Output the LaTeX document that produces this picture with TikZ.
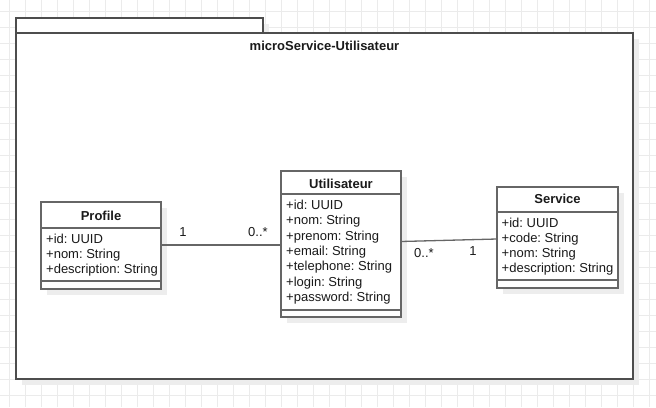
\documentclass[tikz,border=0pt]{standalone}
\usepackage{fontspec}
\setmainfont{Liberation Sans}
\usetikzlibrary{shadows}
\frenchspacing
\definecolor{gridc}{HTML}{EBEBEB}
\definecolor{shad}{HTML}{EDEDED}
\definecolor{edgec}{HTML}{666666}
\definecolor{pkgedge}{HTML}{4D4D4D}
\definecolor{txtc}{HTML}{1A1A1A}
\tikzset{
  pkgbox/.style={draw=pkgedge, fill=white, line width=1.6pt, inner sep=0pt, outer sep=0pt,
    drop shadow={shadow xshift=6pt, shadow yshift=-6pt, fill=shad, opacity=1}},
  clsbox/.style={draw=edgec, fill=white, line width=1.3pt, inner sep=0pt, outer sep=0pt,
    drop shadow={shadow xshift=6pt, shadow yshift=-6pt, fill=shad, opacity=1}},
  sepline/.style={draw=edgec, line width=1.3pt},
  ttl/.style={font=\fontsize{13}{15}\selectfont\bfseries, text=txtc, inner sep=0pt, anchor=base},
  attr/.style={font=\fontsize{13}{15}\selectfont, text=txtc, inner sep=0pt, anchor=base west},
  mult/.style={font=\fontsize{13}{15}\selectfont, text=txtc, inner sep=0pt},
  assoc/.style={draw=edgec, line width=1.3pt}
}
\newcommand\attrlist[5]{% name, x, first baseline, spacing, list
  \foreach \t [count=\i] in {#5} {\node[attr] (#1-\i) at ({#2},{#3+(\i-1)*#4}) {\t};}}
\begin{document}
\begin{tikzpicture}[x=1pt,y=-1pt]
\useasboundingbox (0,0) rectangle (656,407);
\fill[white] (0,0) rectangle (656,407);
\foreach \x in {9,25,...,649} \draw[gridc, line width=0.8pt] (\x,0) -- (\x,407);
\foreach \y in {11,27,...,395} \draw[gridc, line width=0.8pt] (0,\y) -- (656,\y);

% package
\node[pkgbox, minimum width=247pt, minimum height=15pt] (tab) at (139.5,25.5) {};
\node[pkgbox, minimum width=617pt, minimum height=346pt] (pkg) at (324.5,206) {};
\node[ttl] (pkgtitle) at (324.5,50.5) {microService-Utilisateur};

% Profile
\node[clsbox, minimum width=120pt, minimum height=87pt] (profile) at (101,245.5) {};
\draw[sepline] (profile.west |- 0,228) -- (profile.east |- 0,228);
\draw[sepline] (profile.west |- 0,281) -- (profile.east |- 0,281);
\node[ttl] (profile-t) at (101,220) {Profile};
\attrlist{pa}{46}{243.5}{15}{+id: UUID,+nom: String,+description: String}

% Utilisateur
\node[clsbox, minimum width=120pt, minimum height=146pt] (user) at (341,244) {};
\draw[sepline] (user.west |- 0,194) -- (user.east |- 0,194);
\draw[sepline] (user.west |- 0,310) -- (user.east |- 0,310);
\node[ttl] (user-t) at (341,188.5) {Utilisateur};
\attrlist{ua}{286}{209.5}{15.3}{+id: UUID,+nom: String,+prenom: String,+email: String,+telephone: String,+login: String,+password: String}

% Service
\node[clsbox, minimum width=121pt, minimum height=101pt] (service) at (557.5,237.5) {};
\draw[sepline] (service.west |- 0,212) -- (service.east |- 0,212);
\draw[sepline] (service.west |- 0,280) -- (service.east |- 0,280);
\node[ttl] (service-t) at (557.5,203.5) {Service};
\attrlist{sa}{501.5}{227}{15}{+id: UUID,+code: String,+nom: String,+description: String}

% associations
\draw[assoc] (profile.east |- 0,245) -- (user.west |- 0,245);
\node[mult] (m1) at (183,232) {1};
\node[mult] (m2) at (258,232) {0..*};
\draw[assoc] (user.east |- 0,241.5) -- (service.west |- 0,239);
\node[mult] (m3) at (424,253) {0..*};
\node[mult] (m4) at (473,251) {1};
\end{tikzpicture}
\end{document}
